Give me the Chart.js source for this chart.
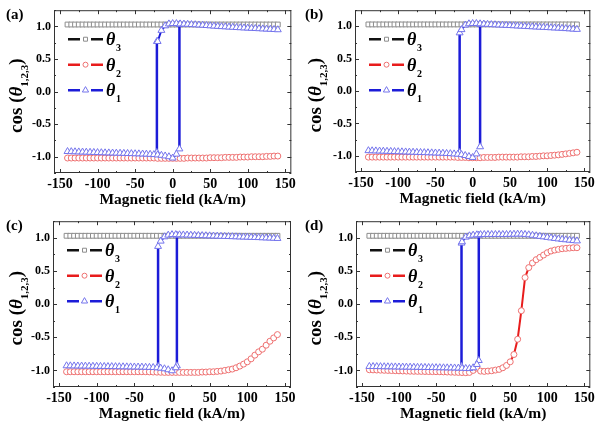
<!DOCTYPE html>
<html>
<head>
<meta charset="utf-8">
<script src="https://cdn.jsdelivr.net/npm/chart.js@4"></script>
<style>
  body { margin: 0; background: #fff; }
  #wrap { position: relative; width: 598px; height: 422px; }
  .panel { position: absolute; width: 299px; height: 211px; }
</style>
</head>
<body>
<div id="wrap">
  <div class="panel" style="left:0;top:0"><canvas id="pa" width="299" height="211"></canvas></div>
  <div class="panel" style="left:299px;top:0"><canvas id="pb" width="299" height="211"></canvas></div>
  <div class="panel" style="left:0;top:211px"><canvas id="pc" width="299" height="211"></canvas></div>
  <div class="panel" style="left:299px;top:211px"><canvas id="pd" width="299" height="211"></canvas></div>
</div>
<script>
// magnetic field, kA/m
const field = [-140,-135,-130,-125,-120,-115,-110,-105,-100,-95,
  -90,-85,-80,-75,-70,-65,-60,-55,-50,-45,
  -40,-35,-30,-25,-20,-15,-10,-5,0,5,
  10,15,20,25,30,35,40,45,50,55,
  60,65,70,75,80,85,90,95,100,105,
  110,115,120,125,130,135,140]

const xTicks = [-150, -100, -50, 0, 50, 100, 150]
const yTicks = [-1.0, -0.5, 0.0, 0.5, 1.0]

// cos(theta3) is the same in all four panels
const theta3 = [1.03,1.03,1.03,1.03,1.03,1.03,1.03,1.03,1.03,1.03,
  1.03,1.03,1.03,1.03,1.03,1.03,1.03,1.03,1.03,1.03,
  1.03,1.03,1.03,1.03,1.03,1.03,1.03,1.03,1.03,1.03,
  1.03,1.03,1.03,1.03,1.03,1.03,1.03,1.03,1.03,1.03,
  1.03,1.03,1.03,1.03,1.03,1.03,1.03,1.03,1.03,1.03,
  1.03,1.03,1.03,1.03,1.03,1.03,1.03]

// ---- panel (a)
const aTheta2 = [-1.02,-1.02,-1.02,-1.02,-1.02,-1.02,-1.02,-1.02,-1.02,-1.02,
  -1.02,-1.02,-1.02,-1.02,-1.02,-1.02,-1.02,-1.02,-1.02,-1.02,
  -1.02,-1.02,-1.02,-1.02,-1.025,-1.025,-1.025,-1.025,-1.025,-1.025,
  -1.025,-1.025,-1.02,-1.02,-1.02,-1.02,-1.02,-1.02,-1.015,-1.015,
  -1.015,-1.015,-1.01,-1.01,-1.01,-1.01,-1.005,-1.005,-1.005,-1.0,
  -1.0,-1.0,-1.0,-0.995,-0.995,-0.99,-0.99]
const aTheta1Up = [null,null,null,null,null,null,null,null,null,null,
  null,null,null,null,null,null,null,null,null,null,
  null,null,null,null,0.77,0.94,1.01,1.04,1.045,1.045,
  1.04,1.037,1.034,1.03,1.027,1.023,1.02,1.015,1.01,1.006,
  1.002,0.998,0.995,0.991,0.988,0.984,0.981,0.978,0.975,0.972,
  0.969,0.966,0.963,0.96,0.957,0.954,0.95]
const aTheta1Low = [-0.92,-0.922,-0.924,-0.926,-0.928,-0.93,-0.932,-0.934,-0.936,-0.938,
  -0.94,-0.941,-0.943,-0.945,-0.946,-0.948,-0.95,-0.952,-0.954,-0.956,
  -0.958,-0.96,-0.963,-0.967,-0.972,-0.978,-0.988,-1.0,-1.02,-0.96,
  null,null,null,null,null,null,null,null,null,null,
  null,null,null,null,null,null,null,null,null,null,
  null,null,null,null,null,null,null]
const aJumpX = [-21, 9]
const aJumpTop = [0.77, 1.03]
const aJumpBottom = [-0.935, -0.88]

// ---- panel (b)
const bTheta2 = [-1.02,-1.02,-1.02,-1.02,-1.02,-1.02,-1.02,-1.02,-1.02,-1.02,
  -1.02,-1.02,-1.02,-1.02,-1.02,-1.02,-1.02,-1.02,-1.02,-1.02,
  -1.02,-1.02,-1.02,-1.02,-1.025,-1.025,-1.025,-1.03,-1.03,-1.03,
  -1.03,-1.025,-1.025,-1.025,-1.025,-1.02,-1.02,-1.02,-1.02,-1.02,
  -1.02,-1.015,-1.015,-1.015,-1.01,-1.01,-1.005,-1.0,-1.0,-0.995,
  -0.99,-0.985,-0.978,-0.97,-0.962,-0.954,-0.945]
const bTheta1Up = [null,null,null,null,null,null,null,null,null,null,
  null,null,null,null,null,null,null,null,null,null,
  null,null,null,null,null,0.95,1.02,1.04,1.045,1.045,
  1.04,1.036,1.032,1.028,1.025,1.022,1.019,1.016,1.013,1.01,
  1.007,1.004,1.0,0.997,0.994,0.991,0.988,0.985,0.982,0.979,
  0.976,0.973,0.97,0.966,0.962,0.958,0.954]
const bTheta1Low = [-0.92,-0.922,-0.924,-0.926,-0.928,-0.93,-0.932,-0.934,-0.936,-0.938,
  -0.94,-0.942,-0.944,-0.946,-0.948,-0.95,-0.952,-0.954,-0.956,-0.958,
  -0.96,-0.963,-0.966,-0.97,-0.975,-0.982,-0.995,-1.01,-1.025,-0.97,
  null,null,null,null,null,null,null,null,null,null,
  null,null,null,null,null,null,null,null,null,null,
  null,null,null,null,null,null,null]
const bJumpX = [-17.5, 10]
const bJumpTop = [0.9, 1.03]
const bJumpBottom = [-0.95, -0.86]

// ---- panel (c)
const cTheta2 = [-1.02,-1.02,-1.02,-1.02,-1.02,-1.02,-1.02,-1.02,-1.02,-1.02,
  -1.02,-1.02,-1.02,-1.02,-1.02,-1.02,-1.02,-1.02,-1.02,-1.02,
  -1.02,-1.02,-1.022,-1.024,-1.026,-1.028,-1.03,-1.03,-1.03,-1.03,
  -1.03,-1.03,-1.03,-1.03,-1.03,-1.03,-1.025,-1.025,-1.02,-1.02,
  -1.015,-1.01,-1.0,-0.99,-0.98,-0.96,-0.935,-0.905,-0.87,-0.825,
  -0.77,-0.72,-0.68,-0.62,-0.56,-0.51,-0.46]
const cTheta1Up = [null,null,null,null,null,null,null,null,null,null,
  null,null,null,null,null,null,null,null,null,null,
  null,null,null,null,null,0.95,1.015,1.04,1.048,1.048,
  1.045,1.043,1.041,1.039,1.037,1.035,1.033,1.031,1.029,1.027,
  1.025,1.023,1.021,1.019,1.017,1.015,1.013,1.011,1.009,1.007,
  1.005,1.003,1.0,0.998,0.996,0.993,0.99]
const cTheta1Low = [-0.93,-0.931,-0.932,-0.933,-0.934,-0.935,-0.936,-0.937,-0.938,-0.939,
  -0.94,-0.941,-0.942,-0.943,-0.944,-0.945,-0.946,-0.947,-0.948,-0.949,
  -0.95,-0.952,-0.954,-0.956,-0.96,-0.966,-0.975,-0.99,-1.005,-0.96,
  null,null,null,null,null,null,null,null,null,null,
  null,null,null,null,null,null,null,null,null,null,
  null,null,null,null,null,null,null]
const cJumpX = [-18.5, 6.5]
const cJumpTop = [0.87, 1.04]
const cJumpBottom = [-0.94, -0.93]

// ---- panel (d)
const dTheta2 = [-0.99,-0.992,-0.994,-0.996,-0.998,-1.0,-1.002,-1.004,-1.006,-1.008,
  -1.01,-1.012,-1.013,-1.014,-1.015,-1.016,-1.017,-1.018,-1.019,-1.02,
  -1.022,-1.024,-1.026,-1.028,-1.03,-1.032,-1.034,-1.03,-1.0,-0.965,
  -1.01,-1.015,-1.01,-1.005,-0.995,-0.985,-0.96,-0.925,-0.87,-0.76,
  -0.53,-0.1,0.40,0.55,0.62,0.67,0.705,0.74,0.775,0.80,
  0.815,0.825,0.835,0.84,0.845,0.85,0.85]
const dTheta1Up = [null,null,null,null,null,null,null,null,null,null,
  null,null,null,null,null,null,null,null,null,null,
  null,null,null,null,null,0.94,1.01,1.03,1.04,1.045,
  1.048,1.05,1.05,1.05,1.05,1.05,1.05,1.05,1.052,1.054,
  1.055,1.055,1.05,1.045,1.038,1.03,1.022,1.014,1.006,0.998,
  0.99,0.983,0.976,0.97,0.964,0.958,0.953]
const dTheta1Low = [-0.94,-0.941,-0.942,-0.943,-0.944,-0.945,-0.946,-0.947,-0.948,-0.949,
  -0.95,-0.951,-0.952,-0.953,-0.954,-0.955,-0.956,-0.957,-0.958,-0.959,
  -0.96,-0.961,-0.962,-0.963,-0.965,-0.967,-0.97,-0.972,-0.96,-0.91,
  null,null,null,null,null,null,null,null,null,null,
  null,null,null,null,null,null,null,null,null,null,
  null,null,null,null,null,null,null]
const dJumpX = [-15.7, 7.6]
const dJumpTop = [0.92, 1.04]
const dJumpBottom = [-0.94, -0.85]

const SERIF = "'Liberation Serif', 'Times New Roman', serif"
const BLUE = '#1c1cd8', BLUE_MK = '#7474ec'
const RED = '#e81c1c', RED_MK = '#ee7070'
const BLACK = '#111', BLACK_MK = '#8c8c8c'

const pts = ys => field.map((f, i) => ({ x: f, y: ys[i] }))

// frame, inward ticks, legend, axis titles and panel label
const decor = {
    id: 'decor',
    afterDatasetsDraw(chart) {
        const { ctx, chartArea: a, scales: { x, y } } = chart
        ctx.save()
        ctx.strokeStyle = '#333'
        ctx.lineWidth = 1
        ctx.strokeRect(a.left + 0.5, a.top + 0.5, a.right - a.left - 1, a.bottom - a.top - 1)
        ctx.beginPath()
        xTicks.forEach((v, i) => {
            const px = Math.round(x.getPixelForValue(v)) + 0.5
            ctx.moveTo(px, a.bottom); ctx.lineTo(px, a.bottom - 4)
            ctx.moveTo(px, a.top); ctx.lineTo(px, a.top + 4)
            if (i < xTicks.length - 1) {
                const mx = Math.round(x.getPixelForValue((v + xTicks[i + 1]) / 2)) + 0.5
                ctx.moveTo(mx, a.bottom); ctx.lineTo(mx, a.bottom - 2)
                ctx.moveTo(mx, a.top); ctx.lineTo(mx, a.top + 2)
            }
        })
        const yMinor = [-1.25, -0.75, -0.25, 0.25, 0.75, 1.25]
        yTicks.forEach(v => {
            const py = Math.round(y.getPixelForValue(v)) + 0.5
            ctx.moveTo(a.left, py); ctx.lineTo(a.left + 4, py)
            ctx.moveTo(a.right, py); ctx.lineTo(a.right - 4, py)
        })
        yMinor.forEach(v => {
            const py = Math.round(y.getPixelForValue(v)) + 0.5
            ctx.moveTo(a.left, py); ctx.lineTo(a.left + 2, py)
            ctx.moveTo(a.right, py); ctx.lineTo(a.right - 2, py)
        })
        ctx.stroke()
        ctx.restore()
    },
    afterDraw(chart, args, opts) {
        const { ctx, chartArea: a } = chart
        ctx.save()

        // legend inside the plot
        const rows = [
            { sub: '3', line: BLACK, mk: BLACK_MK, style: 'rect', r: 2.8, dy: 29 },
            { sub: '2', line: RED, mk: RED_MK, style: 'circle', r: 2.5, dy: 54.5 },
            { sub: '1', line: BLUE, mk: BLUE_MK, style: 'triangle', r: 3.6, dy: 80 }
        ]
        rows.forEach(row => {
            const ly = a.top + row.dy
            ctx.strokeStyle = row.line
            ctx.lineWidth = 2.5
            ctx.beginPath()
            ctx.moveTo(a.left + 14, ly); ctx.lineTo(a.left + 26, ly)
            ctx.moveTo(a.left + 37, ly); ctx.lineTo(a.left + 49, ly)
            ctx.stroke()
            ctx.fillStyle = '#fff'
            ctx.strokeStyle = row.mk
            ctx.lineWidth = 1
            Chart.helpers.drawPoint(ctx, { pointStyle: row.style, radius: row.r, borderWidth: 1 }, a.left + 31.5, ly)
            ctx.fillStyle = '#000'
            ctx.textBaseline = 'alphabetic'
            ctx.textAlign = 'left'
            ctx.font = 'italic bold 18px ' + SERIF
            ctx.fillText('θ', a.left + 52, ly + 6)
            ctx.font = 'bold 10px ' + SERIF
            ctx.fillText(row.sub, a.left + 62, ly + 12)
        })

        // x axis title
        ctx.fillStyle = '#000'
        ctx.textAlign = 'center'
        ctx.textBaseline = 'middle'
        ctx.font = 'bold 15.5px ' + SERIF
        ctx.fillText('Magnetic field (kA/m)', (a.left + a.right) / 2, opts.xTitleY)

        // y axis title: cos (θ1,2,3)
        ctx.textAlign = 'left'
        ctx.textBaseline = 'alphabetic'
        const parts = [
            ['cos (', 'bold 19px ' + SERIF, 0],
            ['θ', 'italic bold 19px ' + SERIF, 0],
            ['1,2,3', 'bold 11px ' + SERIF, 6],
            [')', 'bold 19px ' + SERIF, 0]
        ]
        let total = 0
        parts.forEach(p => { ctx.font = p[1]; p.push(ctx.measureText(p[0]).width); total += p[3] })
        ctx.translate(16, (a.top + a.bottom) / 2 + 4)
        ctx.rotate(-Math.PI / 2)
        let tx = -total / 2
        parts.forEach(p => {
            ctx.font = p[1]
            ctx.fillText(p[0], tx, 6 + p[2])
            tx += p[3]
        })
        ctx.setTransform(1, 0, 0, 1, 0, 0)

        // panel label
        ctx.font = 'bold 15px ' + SERIF
        ctx.textBaseline = 'middle'
        ctx.fillText(opts.label, 6, 15)
        ctx.restore()
    }
}

function makePanel(id, label, theta2, up, low, jx, jTop, jBottom, area) {
    const blueSet = data => ({
        data: data,
        borderColor: BLUE,
        borderWidth: 2,
        pointStyle: 'triangle',
        pointRadius: 4,
        pointBorderColor: BLUE_MK,
        pointBackgroundColor: '#fff',
        pointBorderWidth: 1,
        order: 1
    })
    const jumps = jx.map((v, k) => {
        const ds = blueSet([{ x: v, y: jTop[k] }, { x: v, y: jBottom[k] }])
        ds.borderWidth = 2.5
        return ds
    })

    new Chart(document.getElementById(id), {
        type: 'line',
        data: {
            datasets: [
                blueSet(pts(up)),
                blueSet(pts(low)),
                ...jumps,
                {
                    data: pts(theta2),
                    borderColor: RED,
                    borderWidth: 2,
                    pointStyle: 'circle',
                    pointRadius: 3,
                    pointBorderColor: RED_MK,
                    pointBackgroundColor: '#fff',
                    pointBorderWidth: 1,
                    order: 2
                },
                {
                    data: pts(theta3),
                    borderColor: BLACK,
                    borderWidth: 2,
                    pointStyle: 'rect',
                    pointRadius: 3.4,
                    pointBorderColor: BLACK_MK,
                    pointBackgroundColor: '#fff',
                    pointBorderWidth: 1,
                    order: 3
                }
            ]
        },
        options: {
            responsive: false,
            animation: false,
            devicePixelRatio: 1,
            spanGaps: false,
            layout: { padding: { left: 0, bottom: 0, top: area.top, right: 299 - area.right } },
            plugins: {
                legend: { display: false },
                tooltip: { enabled: false },
                decor: { label: label, xTitleY: area.bottom + 27 }
            },
            scales: {
                x: {
                    type: 'linear',
                    min: -158,
                    max: 158,
                    grid: { display: false, drawTicks: false },
                    border: { display: false },
                    afterBuildTicks: s => { s.ticks = xTicks.map(v => ({ value: v })) },
                    afterFit: s => { s.height = 211 - area.bottom },
                    ticks: {
                        color: '#000',
                        padding: 3,
                        maxRotation: 0,
                        font: { family: SERIF, size: 14, weight: 'bold' },
                        callback: v => String(v)
                    }
                },
                y: {
                    min: -1.25,
                    max: 1.25,
                    grid: { display: false, drawTicks: false },
                    border: { display: false },
                    afterBuildTicks: s => { s.ticks = yTicks.map(v => ({ value: v })) },
                    afterFit: s => { s.width = area.left },
                    ticks: {
                        color: '#000',
                        padding: 3,
                        font: { family: SERIF, size: 12, weight: 'bold' },
                        callback: v => Number(v).toFixed(1)
                    }
                }
            }
        },
        plugins: [decor]
    })
}

makePanel('pa', '(a)', aTheta2, aTheta1Up, aTheta1Low, aJumpX, aJumpTop, aJumpBottom,
    { left: 54, right: 292, top: 5, bottom: 173 })
makePanel('pb', '(b)', bTheta2, bTheta1Up, bTheta1Low, bJumpX, bJumpTop, bJumpBottom,
    { left: 56, right: 294, top: 5, bottom: 172 })
makePanel('pc', '(c)', cTheta2, cTheta1Up, cTheta1Low, cJumpX, cJumpTop, cJumpBottom,
    { left: 53, right: 291, top: 8, bottom: 176 })
makePanel('pd', '(d)', dTheta2, dTheta1Up, dTheta1Low, dJumpX, dJumpTop, dJumpBottom,
    { left: 57, right: 294, top: 8, bottom: 176 })
</script>
</body>
</html>
